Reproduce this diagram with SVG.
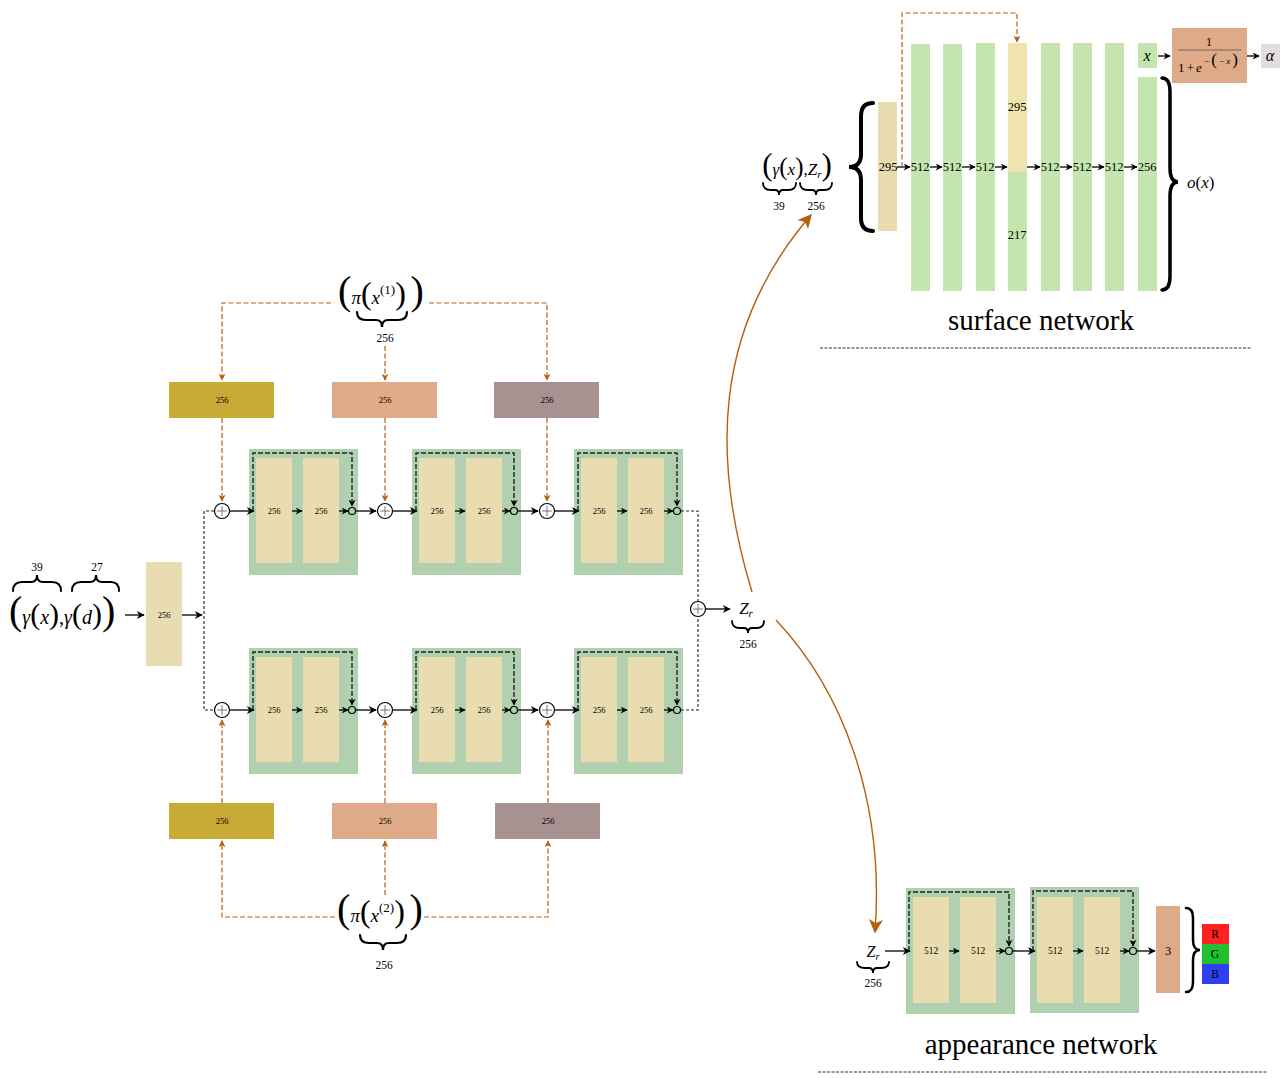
<svg xmlns="http://www.w3.org/2000/svg" width="1286" height="1079" viewBox="0 0 1286 1079">
<defs>
<marker id="ah" viewBox="0 0 10 10" refX="9" refY="5" markerUnits="userSpaceOnUse" markerWidth="10" markerHeight="8" orient="auto"><path d="M0,0 L10,5 L0,10 L3,5 z" fill="#000"/></marker>
<marker id="ahs" viewBox="0 0 10 10" refX="9" refY="5" markerUnits="userSpaceOnUse" markerWidth="8" markerHeight="7" orient="auto"><path d="M0,0 L10,5 L0,10 L3,5 z" fill="#000"/></marker>
<marker id="ao" viewBox="0 0 10 10" refX="9" refY="5" markerUnits="userSpaceOnUse" markerWidth="9" markerHeight="7" orient="auto"><path d="M0,0 L10,5 L0,10 L3,5 z" fill="#B5600F"/></marker>
<marker id="aob" viewBox="0 0 10 10" refX="9" refY="5" markerUnits="userSpaceOnUse" markerWidth="18" markerHeight="14" orient="auto"><path d="M0,0 L10,5 L0,10 L2.5,5 z" fill="#B5600F"/></marker>
</defs>
<style>
text{font-family:"Liberation Serif","DejaVu Serif",serif;fill:#000}
.t8{font-size:8.5px;text-anchor:middle}
.t9{font-size:9.5px;text-anchor:middle}
.t11{font-size:11.5px;text-anchor:middle}
.t12{font-size:12.5px;text-anchor:middle}
.it{font-style:italic}
.grn{fill:#B0D0B0}
.bei{fill:#E8DCB0}
.lg{fill:#C5E5AE}
.olive{fill:#C8AB37}
.salmon{fill:#DFAA88}
.mauve{fill:#A89191}
.sol{stroke:#000;stroke-width:1.3;fill:none}
.skip{stroke:#222;stroke-width:1.4;fill:none;stroke-dasharray:5 2}
.dsh{stroke:#222;stroke-width:1.1;fill:none;stroke-dasharray:3 2}
.or{stroke:#B5600F;stroke-width:1.2;fill:none;stroke-dasharray:5 2.5}
.orc{stroke:#B5600F;stroke-width:1.4;fill:none}
.brace{stroke:#000;fill:none;stroke-linecap:round}
.plus{fill:#fff;stroke:#000;stroke-width:1.2}
.pl{stroke:#555;stroke-width:0.8}
.sc{fill:#B0D0B0;stroke:#000;stroke-width:1.2}
.title{font-size:29px;text-anchor:middle}
</style>

<!-- input -->
<g id="input-label">
<text class="t11" x="37" y="571">39</text>
<text class="t11" x="97" y="571">27</text>
<path class="brace" stroke-width="2" d="M13,591 Q13,582 22,582 L31,582 Q37,582 37,575 Q37,582 43,582 L52,582 Q61,582 61,591"/>
<path class="brace" stroke-width="2" d="M72,591 Q72,582 81,582 L90,582 Q96,582 96,575 Q96,582 102,582 L111,582 Q119,582 119,591"/>
<text x="9" y="624" font-size="20"><tspan font-size="40">(</tspan><tspan class="it">γ</tspan><tspan font-size="30">(</tspan><tspan class="it">x</tspan><tspan font-size="30">)</tspan>,<tspan class="it">γ</tspan><tspan font-size="30">(</tspan><tspan class="it">d</tspan><tspan font-size="30">)</tspan><tspan font-size="40">)</tspan></text>
</g>
<g id="input-layer">
<rect class="bei" x="146" y="562" width="36" height="104"/>
<text class="t8" x="164" y="618">256</text>
</g>

<!-- feature boxes -->
<g id="feat-top-1"><rect class="olive" x="169" y="382" width="105" height="36"/><text class="t8" x="222" y="403">256</text></g>
<g id="feat-top-2"><rect class="salmon" x="332" y="382" width="105" height="36"/><text class="t8" x="385" y="403">256</text></g>
<g id="feat-top-3"><rect class="mauve" x="494" y="382" width="105" height="36"/><text class="t8" x="547" y="403">256</text></g>
<g id="feat-bot-1"><rect class="olive" x="169" y="803" width="105" height="36"/><text class="t8" x="222" y="824">256</text></g>
<g id="feat-bot-2"><rect class="salmon" x="332" y="803" width="105" height="36"/><text class="t8" x="385" y="824">256</text></g>
<g id="feat-bot-3"><rect class="mauve" x="495" y="803" width="105" height="36"/><text class="t8" x="548" y="824">256</text></g>

<!-- pi labels -->
<g id="pi1">
<text x="381" y="304" font-size="19" text-anchor="middle"><tspan font-size="40">(</tspan><tspan class="it">π</tspan><tspan font-size="32">(</tspan><tspan class="it">x</tspan><tspan font-size="13" dy="-10">(1)</tspan><tspan font-size="32" dy="10">)</tspan> <tspan font-size="40">)</tspan></text>
<path class="brace" stroke-width="2.2" d="M357,312 Q357,320 366,320 L376,320 Q382,320 382,327 Q382,320 388,320 L398,320 Q407,320 407,312"/>
<text class="t11" x="385" y="342">256</text>
</g>
<g id="pi2">
<text x="380" y="922" font-size="19" text-anchor="middle"><tspan font-size="40">(</tspan><tspan class="it">π</tspan><tspan font-size="32">(</tspan><tspan class="it">x</tspan><tspan font-size="13" dy="-10">(2)</tspan><tspan font-size="32" dy="10">)</tspan> <tspan font-size="40">)</tspan></text>
<path class="brace" stroke-width="2.2" d="M360,935 Q360,943 369,943 L377,943 Q383,943 383,950 Q383,943 389,943 L397,943 Q406,943 406,935"/>
<text class="t11" x="384" y="969">256</text>
</g>

<!-- residual blocks top row -->
<g id="res-t1">
<rect class="grn" x="249" y="449" width="109" height="126"/>
<rect class="bei" x="256" y="458" width="36" height="105"/><rect class="bei" x="303" y="458" width="36" height="105"/>
<text class="t8" x="274" y="514">256</text><text class="t8" x="321" y="514">256</text>
</g>
<g id="res-t2">
<rect class="grn" x="412" y="449" width="109" height="126"/>
<rect class="bei" x="419" y="458" width="36" height="105"/><rect class="bei" x="466" y="458" width="36" height="105"/>
<text class="t8" x="437" y="514">256</text><text class="t8" x="484" y="514">256</text>
</g>
<g id="res-t3">
<rect class="grn" x="574" y="449" width="109" height="126"/>
<rect class="bei" x="581" y="458" width="36" height="105"/><rect class="bei" x="628" y="458" width="36" height="105"/>
<text class="t8" x="599" y="514">256</text><text class="t8" x="646" y="514">256</text>
</g>
<!-- bottom row -->
<g id="res-b1">
<rect class="grn" x="249" y="648" width="109" height="126"/>
<rect class="bei" x="256" y="657" width="36" height="105"/><rect class="bei" x="303" y="657" width="36" height="105"/>
<text class="t8" x="274" y="713">256</text><text class="t8" x="321" y="713">256</text>
</g>
<g id="res-b2">
<rect class="grn" x="412" y="648" width="109" height="126"/>
<rect class="bei" x="419" y="657" width="36" height="105"/><rect class="bei" x="466" y="657" width="36" height="105"/>
<text class="t8" x="437" y="713">256</text><text class="t8" x="484" y="713">256</text>
</g>
<g id="res-b3">
<rect class="grn" x="574" y="648" width="109" height="126"/>
<rect class="bei" x="581" y="657" width="36" height="105"/><rect class="bei" x="628" y="657" width="36" height="105"/>
<text class="t8" x="599" y="713">256</text><text class="t8" x="646" y="713">256</text>
</g>

<!-- Z_r center -->
<g id="zr-center">
<text x="746" y="614" font-size="17" text-anchor="middle"><tspan class="it">Z</tspan><tspan class="it" font-size="11" dy="3">r</tspan></text>
<path class="brace" stroke-width="1.8" d="M732,621 Q732,628 740,628 L744,628 Q748,628 748,633 Q748,628 752,628 L756,628 Q764,628 764,621"/>
<text class="t11" x="748" y="648">256</text>
</g>

<!-- appearance network nodes -->
<g id="app-input">
<text x="873" y="957" font-size="16" text-anchor="middle"><tspan class="it">Z</tspan><tspan class="it" font-size="10" dy="3">r</tspan></text>
<path class="brace" stroke-width="1.8" d="M857,962 Q857,968 865,968 L869,968 Q873,968 873,973 Q873,968 877,968 L881,968 Q889,968 889,962"/>
<text class="t11" x="873" y="987">256</text>
</g>
<g id="app-res1">
<rect class="grn" x="906" y="888" width="109" height="126"/>
<rect class="bei" x="913" y="897" width="36" height="106"/><rect class="bei" x="960" y="897" width="36" height="106"/>
<text class="t9" x="931" y="954">512</text><text class="t9" x="978" y="954">512</text>
</g>
<g id="app-res2">
<rect class="grn" x="1030" y="887" width="109" height="126"/>
<rect class="bei" x="1037" y="897" width="36" height="106"/><rect class="bei" x="1084" y="897" width="36" height="106"/>
<text class="t9" x="1055" y="954">512</text><text class="t9" x="1102" y="954">512</text>
</g>
<g id="app-out"><rect class="salmon" x="1156" y="906" width="24" height="87"/><text class="t12" x="1168" y="955">3</text></g>
<g id="rgb">
<path class="brace" stroke-width="2.5" d="M1186,908 Q1193,908 1193,918 L1193,940 Q1193,950 1200,950 Q1193,950 1193,960 L1193,982 Q1193,992 1186,992"/>
<rect fill="#FF2020" x="1202" y="924" width="27" height="20"/>
<rect fill="#20C030" x="1202" y="944" width="27" height="20"/>
<rect fill="#3040F0" x="1202" y="964" width="27" height="20"/>
<text class="t11" x="1215" y="938">R</text>
<text class="t11" x="1215" y="958">G</text>
<text class="t11" x="1215" y="978">B</text>
</g>
<g id="app-title">
<text class="title" x="1041" y="1054">appearance network</text>
<line x1="818" y1="1072" x2="1268" y2="1072" stroke="#333" stroke-width="1" stroke-dasharray="3 1.5"/>
</g>

<!-- surface network nodes -->
<g id="surface-input">
<text x="797" y="175" font-size="17" text-anchor="middle"><tspan font-size="31">(</tspan><tspan class="it">γ</tspan><tspan font-size="25">(</tspan><tspan class="it">x</tspan><tspan font-size="25">)</tspan>,<tspan class="it">Z</tspan><tspan class="it" font-size="11" dy="3">r</tspan><tspan font-size="31" dy="-3">)</tspan></text>
<path class="brace" stroke-width="1.8" d="M763,183 Q763,190 771,190 L775,190 Q779,190 779,195 Q779,190 783,190 L788,190 Q796,190 796,183"/>
<path class="brace" stroke-width="1.8" d="M800,183 Q800,190 808,190 L812,190 Q816,190 816,195 Q816,190 820,190 L824,190 Q832,190 832,183"/>
<text class="t11" x="779" y="210">39</text>
<text class="t11" x="816" y="210">256</text>
<path class="brace" stroke-width="4" d="M873,103 Q861,103 861,116 L861,154 Q861,167 849,167 Q861,167 861,180 L861,218 Q861,231 873,231"/>
</g>
<g id="surface-l0"><rect class="bei" x="878" y="102" width="19" height="129"/><text class="t12" x="888" y="171">295</text></g>
<g id="surface-l1"><rect class="lg" x="911" y="44" width="19" height="247"/><text class="t12" x="920" y="171">512</text></g>
<g id="surface-l2"><rect class="lg" x="943" y="44" width="19" height="247"/><text class="t12" x="952" y="171">512</text></g>
<g id="surface-l3"><rect class="lg" x="976" y="43" width="19" height="248"/><text class="t12" x="985" y="171">512</text></g>
<g id="surface-l4"><rect fill="#F0E4AE" x="1008" y="43" width="19" height="129"/><rect class="lg" x="1008" y="172" width="19" height="119"/><text class="t12" x="1017" y="111">295</text><text class="t12" x="1017" y="239">217</text></g>
<g id="surface-l5"><rect class="lg" x="1041" y="43" width="19" height="248"/><text class="t12" x="1050" y="171">512</text></g>
<g id="surface-l6"><rect class="lg" x="1073" y="43" width="19" height="248"/><text class="t12" x="1082" y="171">512</text></g>
<g id="surface-l7"><rect class="lg" x="1105" y="43" width="19" height="248"/><text class="t12" x="1114" y="171">512</text></g>
<g id="surface-l8"><rect class="lg" x="1138" y="77" width="19" height="214"/><text class="t12" x="1147" y="171">256</text></g>
<g id="surface-x"><rect class="lg" x="1138" y="43" width="19" height="25"/><text x="1147" y="61" font-size="16" text-anchor="middle" class="it">x</text></g>
<g id="sigmoid">
<rect class="salmon" x="1172" y="28" width="75" height="55"/>
<text x="1209" y="46" font-size="12" text-anchor="middle">1</text>
<line x1="1178" y1="50" x2="1241" y2="50" stroke="#555" stroke-width="0.8"/>
<text x="1178" y="72" font-size="13" textLength="60" lengthAdjust="spacing">1+<tspan class="it">e</tspan><tspan font-size="9" dy="-8">−</tspan><tspan font-size="17" dy="1">(</tspan><tspan font-size="9" dy="-1">−<tspan class="it">x</tspan></tspan><tspan font-size="17" dy="1">)</tspan></text>
</g>
<g id="alpha"><rect fill="#E5DDDD" x="1261" y="44" width="19" height="24"/><text x="1270" y="61" font-size="16" text-anchor="middle" class="it">α</text></g>
<g id="ox">
<path class="brace" stroke-width="3.5" d="M1162,78 Q1170,78 1170,92 L1170,168 Q1170,182 1178,182 Q1170,182 1170,196 L1170,276 Q1170,290 1162,290"/>
<text x="1187" y="188" font-size="17"><tspan class="it">o</tspan>(<tspan class="it">x</tspan>)</text>
</g>
<g id="surface-title">
<text class="title" x="1041" y="330">surface network</text>
<line x1="820" y1="348" x2="1252" y2="348" stroke="#333" stroke-width="1" stroke-dasharray="3 1.5"/>
</g>

<!-- connectors -->
<g id="connectors">
<path class="sol" d="M125,615 L144,615" marker-end="url(#ah)"/>
<path class="sol" d="M182,615 L202,615" marker-end="url(#ah)"/>
<path class="dsh" d="M214,511 L204,511 L204,710 L214,710"/>
<path class="or" d="M331,303 L222,303 L222,380" marker-end="url(#ao)"/>
<path class="or" d="M429,303 L547,303 L547,380" marker-end="url(#ao)"/>
<path class="or" d="M385,346 L385,380" marker-end="url(#ao)"/>
<path class="or" d="M222,418 L222,501" marker-end="url(#ao)"/>
<path class="or" d="M385,418 L385,501" marker-end="url(#ao)"/>
<path class="or" d="M547,418 L547,501" marker-end="url(#ao)"/>
<path class="or" d="M335,917 L222,917 L222,841" marker-end="url(#ao)"/>
<path class="or" d="M424,917 L548,917 L548,841" marker-end="url(#ao)"/>
<path class="or" d="M385,895 L385,841" marker-end="url(#ao)"/>
<path class="or" d="M222,803 L222,720" marker-end="url(#ao)"/>
<path class="or" d="M385,803 L385,720" marker-end="url(#ao)"/>
<path class="or" d="M548,803 L548,720" marker-end="url(#ao)"/>

<path class="sol" d="M230,511 L254,511" marker-end="url(#ah)"/>
<path class="sol" d="M292,511 L302,511" marker-end="url(#ahs)"/>
<path class="sol" d="M339,511 L348,511" marker-end="url(#ahs)"/>
<path class="skip" d="M253,511 L253,453 L352,453 L352,506" marker-end="url(#ahs)"/>
<path class="sol" d="M356,511 L376,511" marker-end="url(#ah)"/>
<path class="sol" d="M393,511 L417,511" marker-end="url(#ah)"/>
<path class="sol" d="M455,511 L465,511" marker-end="url(#ahs)"/>
<path class="sol" d="M502,511 L510,511" marker-end="url(#ahs)"/>
<path class="skip" d="M416,511 L416,453 L514,453 L514,506" marker-end="url(#ahs)"/>
<path class="sol" d="M518,511 L538,511" marker-end="url(#ah)"/>
<path class="sol" d="M555,511 L579,511" marker-end="url(#ah)"/>
<path class="sol" d="M617,511 L627,511" marker-end="url(#ahs)"/>
<path class="sol" d="M664,511 L673,511" marker-end="url(#ahs)"/>
<path class="skip" d="M578,511 L578,453 L677,453 L677,506" marker-end="url(#ahs)"/>
<path class="sol" d="M230,710 L254,710" marker-end="url(#ah)"/>
<path class="sol" d="M292,710 L302,710" marker-end="url(#ahs)"/>
<path class="sol" d="M339,710 L348,710" marker-end="url(#ahs)"/>
<path class="skip" d="M253,710 L253,652 L352,652 L352,705" marker-end="url(#ahs)"/>
<path class="sol" d="M356,710 L376,710" marker-end="url(#ah)"/>
<path class="sol" d="M393,710 L417,710" marker-end="url(#ah)"/>
<path class="sol" d="M455,710 L465,710" marker-end="url(#ahs)"/>
<path class="sol" d="M502,710 L510,710" marker-end="url(#ahs)"/>
<path class="skip" d="M416,710 L416,652 L514,652 L514,705" marker-end="url(#ahs)"/>
<path class="sol" d="M518,710 L538,710" marker-end="url(#ah)"/>
<path class="sol" d="M555,710 L579,710" marker-end="url(#ah)"/>
<path class="sol" d="M617,710 L627,710" marker-end="url(#ahs)"/>
<path class="sol" d="M664,710 L673,710" marker-end="url(#ahs)"/>
<path class="skip" d="M578,710 L578,652 L677,652 L677,705" marker-end="url(#ahs)"/>
<path class="dsh" d="M681,511 L698,511 L698,601"/>
<path class="dsh" d="M681,710 L698,710 L698,617"/>
<path class="sol" d="M706,609 L730,609" marker-end="url(#ah)"/>
<path class="orc" d="M752,592 C712,460 712,330 811,215" marker-end="url(#aob)"/>
<path class="orc" d="M776,620 C842,690 885,800 875,932" marker-end="url(#aob)"/>

<path class="sol" d="M897,167 L910,167" marker-end="url(#ahs)"/>
<path class="sol" d="M930,167 L942,167" marker-end="url(#ahs)"/>
<path class="sol" d="M962,167 L975,167" marker-end="url(#ahs)"/>
<path class="sol" d="M995,167 L1007,167" marker-end="url(#ahs)"/>
<path class="sol" d="M1027,167 L1040,167" marker-end="url(#ahs)"/>
<path class="sol" d="M1060,167 L1072,167" marker-end="url(#ahs)"/>
<path class="sol" d="M1092,167 L1104,167" marker-end="url(#ahs)"/>
<path class="sol" d="M1124,167 L1137,167" marker-end="url(#ahs)"/>
<path class="or" d="M902,167 L902,13 L1017,13 L1017,42" marker-end="url(#ao)"/>
<path class="sol" d="M1158,56 L1170,56" marker-end="url(#ahs)"/>
<path class="sol" d="M1247,56 L1259,56" marker-end="url(#ahs)"/>

<path class="sol" d="M885,951 L910,951" marker-end="url(#ah)"/>
<path class="sol" d="M949,951 L959,951" marker-end="url(#ahs)"/>
<path class="sol" d="M996,951 L1005,951" marker-end="url(#ahs)"/>
<path class="skip" d="M909,951 L909,892 L1009,892 L1009,946" marker-end="url(#ahs)"/>
<path class="sol" d="M1013,951 L1035,951" marker-end="url(#ah)"/>
<path class="sol" d="M1073,951 L1083,951" marker-end="url(#ahs)"/>
<path class="sol" d="M1120,951 L1129,951" marker-end="url(#ahs)"/>
<path class="skip" d="M1033,951 L1033,891 L1133,891 L1133,946" marker-end="url(#ahs)"/>
<path class="sol" d="M1137,951 L1155,951" marker-end="url(#ah)"/>
</g>

<!-- plus circles -->
<g id="plus-nodes">
<circle class="plus" cx="222" cy="511" r="7.5"/><path class="pl" d="M217,511 H227 M222,506 V516"/>
<circle class="plus" cx="385" cy="511" r="7.5"/><path class="pl" d="M380,511 H390 M385,506 V516"/>
<circle class="plus" cx="547" cy="511" r="7.5"/><path class="pl" d="M542,511 H552 M547,506 V516"/>
<circle class="plus" cx="222" cy="710" r="7.5"/><path class="pl" d="M217,710 H227 M222,705 V715"/>
<circle class="plus" cx="385" cy="710" r="7.5"/><path class="pl" d="M380,710 H390 M385,705 V715"/>
<circle class="plus" cx="547" cy="710" r="7.5"/><path class="pl" d="M542,710 H552 M547,705 V715"/>
<circle class="plus" cx="698" cy="609" r="7.5"/><path class="pl" d="M693,609 H703 M698,604 V614"/>
<circle class="sc" cx="352" cy="511" r="3.5"/><circle class="sc" cx="514" cy="511" r="3.5"/><circle class="sc" cx="677" cy="511" r="3.5"/>
<circle class="sc" cx="352" cy="710" r="3.5"/><circle class="sc" cx="514" cy="710" r="3.5"/><circle class="sc" cx="677" cy="710" r="3.5"/>
<circle class="sc" cx="1009" cy="951" r="3.5"/><circle class="sc" cx="1133" cy="951" r="3.5"/>
</g>
</svg>
